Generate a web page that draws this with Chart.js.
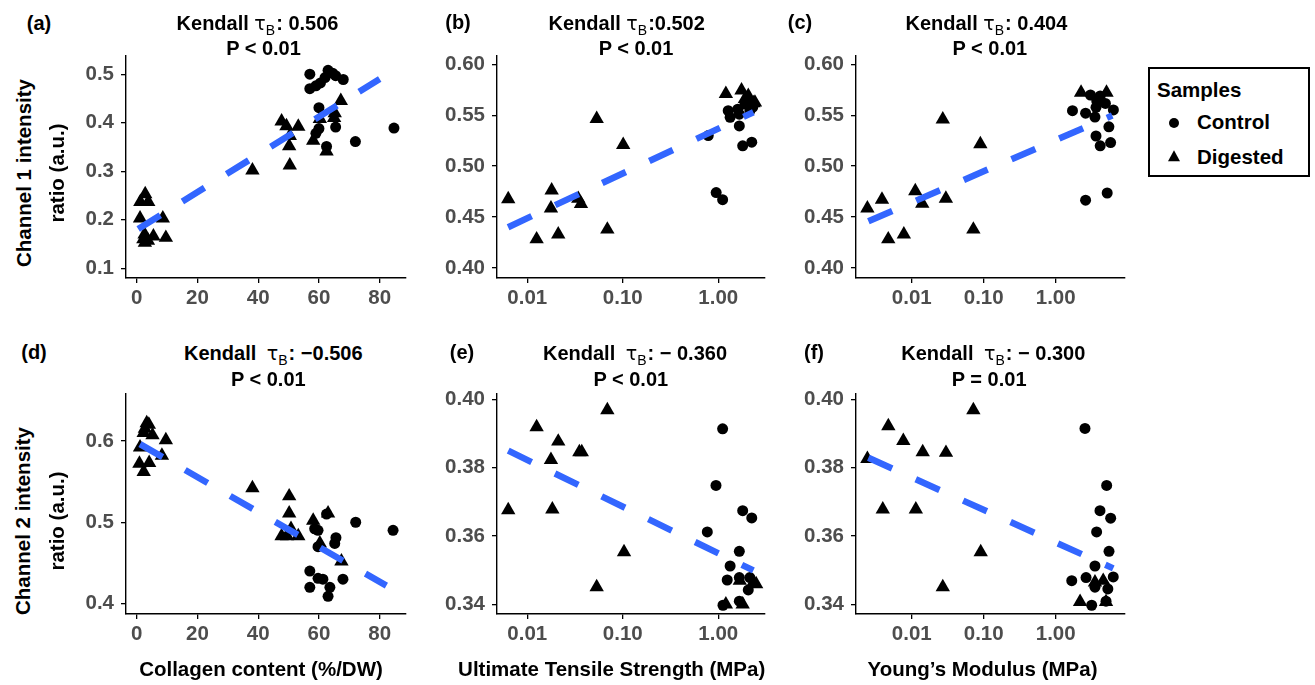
<!DOCTYPE html>
<html><head><meta charset="utf-8">
<script src="https://cdn.jsdelivr.net/npm/chart.js@4.4.1/dist/chart.umd.min.js"></script>
<style>
html,body{margin:0;padding:0;background:#fff;}
body{width:1315px;height:685px;position:relative;overflow:hidden;font-family:"Liberation Sans",Arial,Helvetica,sans-serif;}
canvas{position:absolute;}
.t{position:absolute;white-space:nowrap;font-weight:bold;font-size:20px;color:#000;transform:translate(-50%,-50%);line-height:1;}
.tau{font-weight:normal;font-family:"DejaVu Sans",sans-serif;font-size:19px;}
.wide .tau{margin-left:5px;}
.sub{font-weight:normal;font-size:14px;position:relative;top:5px;margin-right:1px;}
.rot{transform:translate(-50%,-50%) rotate(-90deg);font-size:20.5px;}
.xt{font-size:20.5px;}
#legend{position:absolute;left:1148px;top:67px;width:158px;height:106px;border:2px solid #000;}
.lt{position:absolute;white-space:nowrap;font-weight:bold;font-size:20.5px;line-height:1;transform:translateY(-50%);}
.mc{position:absolute;width:10px;height:10px;border-radius:50%;background:#000;transform:translate(-50%,-50%);}
.mt{position:absolute;width:0;height:0;border-left:6.5px solid transparent;border-right:6.5px solid transparent;border-bottom:11px solid #000;transform:translate(-50%,-62%);}
</style></head><body>
<script>
// ---------- data ----------
// (a) Channel 1 ratio vs Collagen content
const aControlX = [57,57,59,60.5,62,63,64.5,65.5,68,60,60,59,65.5,62.5,72,84.7];
const aControlY = [0.500,0.470,0.476,0.482,0.493,0.508,0.502,0.497,0.489,0.431,0.388,0.378,0.391,0.351,0.361,0.389];
const aDigestedX = [2.8,1.2,3.8,1.1,8.6,9.6,2.6,2.2,5.5,2.7,3.7,38.1,47.7,49.3,53.2,50.4,50.2,50.4,67.2,65.2,65,60.3,58.1,62.5];
const aDigestedY = [0.253,0.237,0.237,0.203,0.203,0.163,0.170,0.160,0.166,0.153,0.157,0.302,0.403,0.393,0.392,0.373,0.352,0.312,0.445,0.420,0.410,0.408,0.363,0.341];
const aFitX = [0.5,80];
const aFitY = [0.181,0.490];
// (b) Channel 1 ratio vs Ultimate Tensile Strength
const bControlX = [0.785,0.95,1.11,1.27,1.33,1.66,1.80,2.24,1.66,1.9,2.14,2.0,1.6,2.3];
const bControlY = [0.530,0.474,0.467,0.5545,0.548,0.5395,0.520,0.5235,0.551,0.561,0.5545,0.566,0.556,0.558];
const bDigestedX = [0.00632,0.01253,0.0180,0.0177,0.0211,0.0342,0.0365,0.0533,0.0689,0.101,1.2,1.75,1.9,2.06,2.42,2.33];
const bDigestedY = [0.4676,0.4282,0.4762,0.4585,0.433,0.468,0.463,0.5465,0.4378,0.521,0.571,0.5745,0.566,0.569,0.5626,0.562];
const bFitX = [0.0063,2.33];
const bFitY = [0.440,0.553];
// (c) Channel 1 ratio vs Young's Modulus
const cControlX = [1.71,2.60,3.04,3.51,3.63,4.15,5.48,5.79,6.33,4.9,3.63,3.72,2.60,5.19,4.15];
const cControlY = [0.5545,0.552,0.5699,0.5482,0.5296,0.520,0.5386,0.5232,0.5552,0.5616,0.5578,0.5641,0.4666,0.4736,0.569];
const cDigestedX = [0.00242,0.00386,0.00472,0.00777,0.0112,0.0140,0.0270,0.0298,0.0718,0.0898,2.25,5.08];
const cDigestedY = [0.4585,0.4672,0.4282,0.433,0.4755,0.4633,0.5459,0.4681,0.4378,0.5216,0.5722,0.5722];
const cFitX = [0.0025,6.1];
const cFitY = [0.4458,0.5497];
// (d) Channel 2 ratio vs Collagen content
const dControlX = [59.7,58.6,62.5,65.6,65.2,59.7,72.1,84.4,67.9,57,57,59.7,61.3,63.6,63];
const dControlY = [0.490,0.492,0.510,0.481,0.474,0.470,0.500,0.490,0.430,0.440,0.420,0.431,0.430,0.420,0.409];
const dDigestedX = [3.3,4.0,2.3,5.2,1.1,9.6,8.3,0.9,4.1,2.3,2.7,38.1,50.2,50.2,50.8,47.7,49.5,53.2,58.1,63,67.4,60.3];
const dDigestedY = [0.622,0.620,0.610,0.607,0.592,0.601,0.582,0.572,0.573,0.562,0.615,0.542,0.532,0.511,0.492,0.483,0.483,0.483,0.502,0.511,0.452,0.474];
const dFitX = [1.1,82.2];
const dFitY = [0.596,0.422];
// (e) Channel 2 ratio vs Ultimate Tensile Strength
const eControlX = [1.11,0.946,1.80,2.24,0.767,1.66,1.33,1.24,1.66,2.14,2.06,1.12,1.66];
const eControlY = [0.3914,0.3748,0.3674,0.3653,0.3612,0.3555,0.3512,0.3471,0.3478,0.3478,0.3442,0.3397,0.3409];
const eDigestedX = [0.00632,0.01253,0.0211,0.0177,0.0183,0.0351,0.0372,0.0533,0.0689,0.103,1.2,1.80,2.33,1.68,2.49];
const eDigestedY = [0.3676,0.3919,0.3877,0.3823,0.3678,0.3846,0.3846,0.345,0.3969,0.3553,0.340,0.340,0.3464,0.3469,0.3459];
const eFitX = [0.00632,2.33];
const eFitY = [0.385,0.3499];
// (f) Channel 2 ratio vs Young's Modulus
const fControlX = [2.55,5.1,4.12,5.8,3.7,5.5,3.51,1.67,2.64,6.3,3.16,5.0,3.51,5.3];
const fControlY = [0.3915,0.3748,0.3674,0.3652,0.3612,0.3555,0.3512,0.3469,0.3478,0.348,0.3397,0.3409,0.345,0.3445];
const fDigestedX = [0.00242,0.00396,0.00473,0.00764,0.0114,0.0142,0.0299,0.027,0.0718,0.0908,2.18,5.0,3.51,4.57];
const fDigestedY = [0.3826,0.3678,0.3922,0.3879,0.3678,0.3846,0.3844,0.345,0.3969,0.3553,0.3407,0.3407,0.3464,0.3469];
const fFitX = [0.0025,6.3];
const fFitY = [0.3829,0.3505];

// tick labels
const collagenTicks = [0,20,40,60,80];
const logTicks = [0.01,0.1,1];
const ch1TicksA = [0.1,0.2,0.3,0.4,0.5];
const ch1TicksBC = [0.40,0.45,0.50,0.55,0.60];
const ch2TicksD = [0.4,0.5,0.6];
const ch2TicksEF = [0.34,0.36,0.38,0.40];

// texts
const panelLetters = ['(a)','(b)','(c)','(d)','(e)','(f)'];
const tauValues = [': 0.506',':0.502',': 0.404',': \u22120.506',': \u2212 0.360',': \u2212 0.300'];
const pValues = ['P < 0.01','P < 0.01','P < 0.01','P < 0.01','P < 0.01','P = 0.01'];
const xTitles = ['Collagen content (%/DW)','Ultimate Tensile Strength (MPa)','Young\u2019s Modulus (MPa)'];
const yTitles = [['Channel 1 intensity','ratio (a.u.)'],['Channel 2 intensity','ratio (a.u.)']];
const legendTitle = 'Samples';
const seriesNames = ['Control','Digested'];

// ---------- layout ----------
const PADL = 75, PADR = 15, PADT = 14, PADB = 45;
const FONT = '"Liberation Sans", Arial, Helvetica, sans-serif';
const panels = [
  {L:126,T:50,R:406,B:278, log:false, xmin:-3.52, xmax:88.66, ymin:0.0799, ymax:0.5389, xt:collagenTicks, yt:ch1TicksA, yd:1,
   cx:aControlX, cy:aControlY, dx:aDigestedX, dy:aDigestedY, fx:aFitX, fy:aFitY},
  {L:497,T:50,R:765,B:278, log:true, xmin:0.00482, xmax:3.083, ymin:0.3901, ymax:0.6089, xt:logTicks, yt:ch1TicksBC, yd:2,
   cx:bControlX, cy:bControlY, dx:bDigestedX, dy:bDigestedY, fx:bFitX, fy:bFitY},
  {L:856,T:50,R:1125,B:278, log:true, xmin:0.001682, xmax:9.173, ymin:0.3901, ymax:0.6089, xt:logTicks, yt:ch1TicksBC, yd:2,
   cx:cControlX, cy:cControlY, dx:cDigestedX, dy:cDigestedY, fx:cFitX, fy:cFitY},
  {L:126,T:388,R:406,B:614, log:false, xmin:-3.52, xmax:88.66, ymin:0.3872, ymax:0.6585, xt:collagenTicks, yt:ch2TicksD, yd:1,
   cx:dControlX, cy:dControlY, dx:dDigestedX, dy:dDigestedY, fx:dFitX, fy:dFitY},
  {L:497,T:388,R:765,B:614, log:true, xmin:0.00482, xmax:3.083, ymin:0.33714, ymax:0.4018, xt:logTicks, yt:ch2TicksEF, yd:2,
   cx:eControlX, cy:eControlY, dx:eDigestedX, dy:eDigestedY, fx:eFitX, fy:eFitY},
  {L:856,T:388,R:1125,B:614, log:true, xmin:0.001682, xmax:9.173, ymin:0.33714, ymax:0.4018, xt:logTicks, yt:ch2TicksEF, yd:2,
   cx:fControlX, cy:fControlY, dx:fDigestedX, dy:fDigestedY, fx:fFitX, fy:fFitY}
];
const titlePos = [
  {lx:39,ly:23, t1x:257.5,t1y:23, t2x:263.5,t2y:48},
  {lx:458,ly:22, t1x:626.7,t1y:23, t2x:636,t2y:48},
  {lx:800,ly:22, t1x:986.4,t1y:23, t2x:989.9,t2y:48},
  {lx:34,ly:352, t1x:273.3,t1y:353, t2x:268.3,t2y:379},
  {lx:462,ly:352, t1x:635,t1y:353, t2x:630.8,t2y:379},
  {lx:814,ly:352, t1x:993.3,t1y:353, t2x:989.2,t2y:379}
];
const xTitlePos = [{x:261,y:669},{x:611.7,y:669},{x:982.5,y:669}];
const yTitlePos = [{x1:24,x2:57,y:173},{x1:23,x2:57,y:521}];

function zip(xs, ys){ return xs.map((x,i)=>({x:x, y:ys[i]})); }
function addDiv(cls, html, x, y){
  const d = document.createElement('div');
  d.className = cls; d.innerHTML = html;
  d.style.left = x + 'px'; d.style.top = y + 'px';
  document.body.appendChild(d); return d;
}

Chart.defaults.font.family = FONT;

panels.forEach((p, i) => {
  const W = p.R - p.L + PADL + PADR, H = p.B - p.T + PADT + PADB;
  const c = document.createElement('canvas');
  c.width = W; c.height = H;
  c.style.width = W + 'px'; c.style.height = H + 'px';
  c.style.left = (p.L - PADL) + 'px'; c.style.top = (p.T - PADT) + 'px';
  document.body.appendChild(c);
  const gridOpt = {display:true, drawOnChartArea:false, drawTicks:true, tickLength:5, color:'#000', lineWidth:1.3};
  const borderOpt = {display:true, color:'#000', width:1.4};
  const tickFont = {family:FONT, size:20.5, weight:'bold'};
  new Chart(c, {
    type:'scatter',
    data:{datasets:[
      {label:'fit', data:zip(p.fx,p.fy), showLine:true, borderColor:'#3366FF', borderWidth:6.5,
       borderDash:[26,26], borderCapStyle:'butt', pointRadius:0, fill:false, order:0},
      {label:seriesNames[0], data:zip(p.cx,p.cy), pointStyle:'circle', pointRadius:5.5,
       backgroundColor:'#000', borderColor:'#000', borderWidth:0, order:1},
      {label:seriesNames[1], data:zip(p.dx,p.dy), pointStyle:'triangle', pointRadius:8.3,
       backgroundColor:'#000', borderColor:'#000', borderWidth:0, order:2}
    ]},
    options:{
      responsive:false, animation:false, devicePixelRatio:1, events:[],
      layout:{padding:{left:0, top:PADT, right:PADR, bottom:0}},
      plugins:{legend:{display:false}, tooltip:{enabled:false}, title:{display:false}},
      scales:{
        x:{type:p.log?'logarithmic':'linear', min:p.xmin, max:p.xmax,
           afterBuildTicks:s=>{ s.ticks = p.xt.map(v=>({value:v})); },
           afterFit:s=>{ s.height = PADB; },
           grid:gridOpt, border:borderOpt,
           ticks:{autoSkip:false, maxRotation:0, padding:3, color:'#4D4D4D', font:tickFont,
                  callback:v=> p.log ? Number(v).toFixed(2) : String(Math.round(v))}},
        y:{type:'linear', min:p.ymin, max:p.ymax,
           afterBuildTicks:s=>{ s.ticks = p.yt.map(v=>({value:v})); },
           afterFit:s=>{ s.width = PADL; },
           grid:gridOpt, border:borderOpt,
           ticks:{autoSkip:false, padding:7, color:'#4D4D4D', font:tickFont,
                  callback:v=> Number(v).toFixed(p.yd)}}
      }
    }
  });
  const tp = titlePos[i];
  addDiv('t', panelLetters[i], tp.lx, tp.ly);
  addDiv(i >= 3 ? 't wide' : 't', 'Kendall <span class="tau">\u03c4</span><span class="sub">B</span>' + tauValues[i], tp.t1x, tp.t1y);
  addDiv('t', pValues[i], tp.t2x, tp.t2y);
});

xTitles.forEach((t, i) => addDiv('t xt', t, xTitlePos[i].x, xTitlePos[i].y));
yTitles.forEach((pair, i) => {
  addDiv('t rot', pair[0], yTitlePos[i].x1, yTitlePos[i].y);
  addDiv('t rot', pair[1], yTitlePos[i].x2, yTitlePos[i].y);
});

// legend
const lg = document.createElement('div'); lg.id = 'legend'; document.body.appendChild(lg);
addDiv('lt', legendTitle, 1157, 90);
addDiv('mc', '', 1174, 122.7);
addDiv('lt', seriesNames[0], 1197, 122);
addDiv('mt', '', 1174, 156.7);
addDiv('lt', seriesNames[1], 1197, 156.5);
</script>
</body></html>
